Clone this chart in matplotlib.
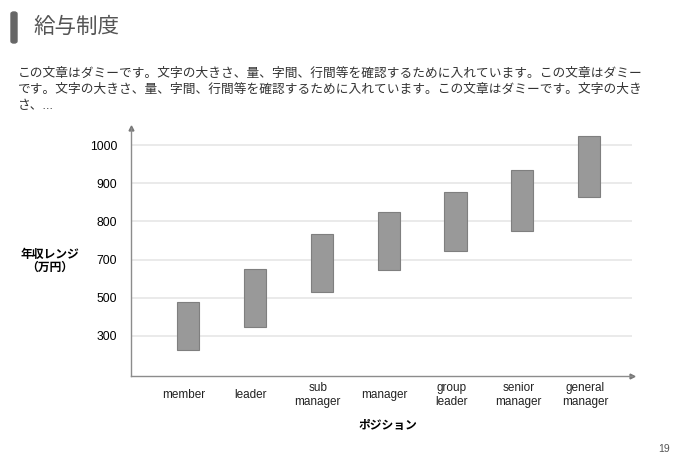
import numpy as np
import matplotlib.pyplot as plt
from matplotlib.patches import FancyBboxPatch

plt.rcParams['font.family'] = ['Liberation Sans', 'Noto Sans CJK JP', 'DejaVu Sans']

# data (y values in grid steps: 0 = "300" line, 1 = "500" line, ...)
positions = ["member", "leader", "sub\nmanager", "manager", "group\nleader", "senior\nmanager", "general\nmanager"]
range_low = [-0.36, 0.24, 1.15, 1.74, 2.23, 2.74, 3.64]
range_high = [0.88, 1.75, 2.67, 3.25, 3.76, 4.35, 5.25]
ytick_labels = ["300", "500", "700", "800", "900", "1000"]

title = "給与制度"
body = ("この文章はダミーです。文字の大きさ、量、字間、行間等を確認するために入れています。この文章はダミー\n"
        "です。文字の大きさ、量、字間、行間等を確認するために入れています。この文章はダミーです。文字の大き\n"
        "さ、...")

W, H = 678, 462
fig = plt.figure(figsize=(W / 100, H / 100), dpi=100)

# header
fig.patches.append(FancyBboxPatch((11 / W, 1 - 43 / H), 6 / W, 31 / H,
                                  boxstyle="round,pad=0,rounding_size=0.004",
                                  transform=fig.transFigure, color="#666666"))
fig.text(33 / W, 1 - 27 / H, title, fontsize=15.5, color="#555555", va="center", ha="left")
fig.text(18 / W, 1 - 68 / H, body, fontsize=9.15, color="#333333", va="top", ha="left", linespacing=1.42)
fig.text(670 / W, 1 - 449 / H, "19", fontsize=7.5, color="#555555", ha="right", va="center")

ax = fig.add_axes([131 / W, 86 / H, 501 / W, 248 / H])
x = np.arange(len(positions))
low = np.array(range_low)
high = np.array(range_high)
ax.bar(x, high - low, bottom=low, width=0.33, color="#999999", edgecolor="#7f7f7f", linewidth=0.8, zorder=3)

ax.set_xlim(-0.853, 6.64)
ax.set_ylim(-1.05, 5.45)
ax.set_yticks(np.arange(len(ytick_labels)), ytick_labels)
ax.tick_params(axis="y", length=0, pad=10, labelsize=8.7)
ax.set_xticks([])
ax.grid(axis="y", color="#e6e6e6", linewidth=1.2, zorder=0)
for s in ["top", "right"]:
    ax.spines[s].set_visible(False)
for s in ["left", "bottom"]:
    ax.spines[s].set_color("#8c8c8c")
    ax.spines[s].set_linewidth(1)
ax.plot(0, 1, marker="^", color="#777777", markersize=3.5, transform=ax.transAxes, clip_on=False)
ax.plot(1, 0, marker=">", color="#777777", markersize=3.5, transform=ax.transAxes, clip_on=False)

trans = ax.get_xaxis_transform()
for xi, lab in zip(x, positions):
    ax.text(xi - 0.06, -0.077, lab, transform=trans, ha="center", va="center",
            fontsize=8.5, color="#222222", linespacing=1.15)

fig.text(388 / W, 1 - 426 / H, "ポジション", fontsize=8.5, fontweight="bold", ha="center", va="center")
fig.text(50 / W, 1 - 261 / H, "年収レンジ\n（万円）", fontsize=8.5, fontweight="bold",
         ha="center", va="center", linespacing=1.1)

fig.savefig("out.png", dpi=100)
